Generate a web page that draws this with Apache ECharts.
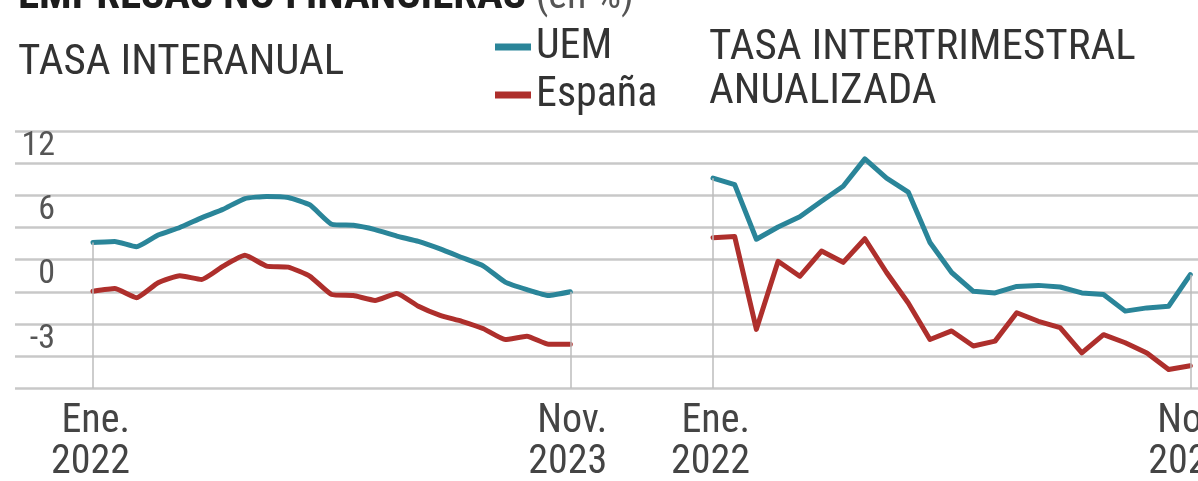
<!DOCTYPE html>
<html>
<head>
<meta charset="utf-8">
<script src="https://cdn.jsdelivr.net/npm/echarts@6/dist/echarts.min.js"></script>
<style>
html,body{margin:0;padding:0;background:#fff;}
#c{width:1198px;height:481px;}
</style>
</head>
<body>
<div id="c"></div>
<script>
// ---- data ----
const categories = ['Ene. 2022','Feb. 2022','Mar. 2022','Abr. 2022','May. 2022','Jun. 2022','Jul. 2022','Ago. 2022','Sep. 2022','Oct. 2022','Nov. 2022','Dic. 2022',
  'Ene. 2023','Feb. 2023','Mar. 2023','Abr. 2023','May. 2023','Jun. 2023','Jul. 2023','Ago. 2023','Sep. 2023','Oct. 2023','Nov. 2023'];
const uemInteranual = [4.6, 4.7, 4.2, 5.3, 6.0, 6.9, 7.7, 8.7, 8.9, 8.8, 8.1, 6.3, 6.2, 5.8, 5.2, 4.7, 4.0, 3.2, 2.4, 0.9, 0.2, -0.35, 0.0];
const espInteranual = [0.05, 0.3, -0.55, 0.85, 1.5, 1.15, 2.4, 3.4, 2.4, 2.3, 1.45, -0.25, -0.35, -0.8, -0.15, -1.35, -2.2, -2.75, -3.45, -4.45, -4.15, -4.9, -4.9];
const uemTrimestral = [10.6, 10.0, 4.9, 6.05, 7.0, 8.45, 9.85, 12.4, 10.6, 9.3, 4.6, 1.8, 0.05, -0.1, 0.5, 0.6, 0.45, -0.1, -0.25, -1.8, -1.5, -1.35, 1.6];
const espTrimestral = [5.05, 5.15, -3.5, 2.85, 1.45, 3.8, 2.75, 4.95, 1.8, -1.05, -4.45, -3.65, -5.05, -4.6, -1.95, -2.75, -3.35, -5.7, -4.0, -4.75, -5.7, -7.25, -6.9];
const seriesNames = ['UEM', 'España'];
// y tick labels exactly as printed in the reference, at the gridlines where they appear
const yTickValues = [12, 6, 0, -6];
const yTickLabels = ['12', '6', '0', '-3'];
const titleMain = 'EMPRESAS NO FINANCIERAS';
const titleUnit = '(en %)';
const subLeft = 'TASA INTERANUAL';
const subRight = 'TASA INTERTRIMESTRAL\nANUALIZADA';

// ---- styling ----
const FONT = "'Liberation Sans Narrow','Roboto Condensed','Liberation Sans',sans-serif";
const TEAL = '#2a8599';
const RED = '#ae2f2c';
const Y_MIN = -9, Y_MAX = 15, Y_INT = 3;
const TOP = 131, H = 257.3;

function dropLines(a, b) {
  const last = categories.length - 1;
  return {
    silent: true, symbol: ['none', 'none'], label: {show: false}, animation: false,
    lineStyle: {color: '#bdbdbd', width: 1.5, type: 'solid'},
    data: [
      [{coord: [categories[0], Math.max(a[0], b[0])]}, {coord: [categories[0], Y_MIN]}],
      [{coord: [categories[last], Math.max(a[last], b[last])]}, {coord: [categories[last], Y_MIN]}]
    ]
  };
}

function xAxisFor(gi) {
  const last = categories.length - 1;
  return {
    gridIndex: gi, type: 'category', data: categories, boundaryGap: false,
    axisLine: {show: false}, axisTick: {show: false}, splitLine: {show: false},
    axisLabel: {
      interval: (i) => i === 0 || i === last,
      align: 'center', width: 74, margin: 13,
      formatter: (v) => '{a|' + v.replace(' ', '}\n{a|') + '}',
      rich: {a: {align: 'right', fontFamily: FONT, fontSize: 40, lineHeight: 41, color: '#444'}}
    }
  };
}
function hiddenY(gi) {
  return {gridIndex: gi, type: 'value', min: Y_MIN, max: Y_MAX, interval: Y_INT, show: false};
}
function lineSeries(name, data, color, gi, extra) {
  return Object.assign({
    name: name, type: 'line', xAxisIndex: gi, yAxisIndex: gi, data: data,
    symbol: 'none', smooth: 0.15, color: color,
    lineStyle: {width: 5, color: color, join: 'round', cap: 'round'},
    z: 3
  }, extra || {});
}

const chart = echarts.init(document.getElementById('c'), null, {renderer: 'canvas'});
chart.setOption({
  animation: false,
  backgroundColor: '#ffffff',
  title: [
    {text: titleMain + ' {u|' + titleUnit + '}', left: 18, top: -24, padding: 0,
      textStyle: {fontFamily: FONT, fontSize: 43, fontWeight: 'bold', color: '#1c1c1c', lineHeight: 43,
        rich: {u: {fontFamily: FONT, fontSize: 40, fontWeight: 'normal', color: '#555'}}}},
    {text: subLeft, left: 18, top: 42, padding: 0,
      textStyle: {fontFamily: FONT, fontSize: 43, fontWeight: 'normal', color: '#333', lineHeight: 43}},
    {text: subRight, left: 709, top: 26, padding: 0,
      textStyle: {fontFamily: FONT, fontSize: 43, fontWeight: 'normal', color: '#333', lineHeight: 44}}
  ],
  legend: {
    data: seriesNames, orient: 'vertical', left: 495, top: 26, padding: 0,
    itemGap: 6, itemWidth: 36, itemHeight: 7, icon: 'rect',
    textStyle: {fontFamily: FONT, fontSize: 42, color: '#333', lineHeight: 42}
  },
  grid: [
    {left: 93, width: 477.3, top: TOP, height: H, outerBoundsMode: 'none', containLabel: false},
    {left: 713, width: 477.3, top: TOP, height: H, outerBoundsMode: 'none', containLabel: false},
    {left: 15, right: 0, top: TOP, height: H, outerBoundsMode: 'none', containLabel: false}
  ],
  xAxis: [xAxisFor(0), xAxisFor(1), {gridIndex: 2, type: 'value', min: 0, max: 1, show: false}],
  yAxis: [hiddenY(0), hiddenY(1), {
    gridIndex: 2, type: 'value', min: Y_MIN, max: Y_MAX, interval: Y_INT,
    axisLine: {show: false}, axisTick: {show: false},
    splitLine: {show: true, lineStyle: {color: '#c8c8c8', width: 2.6}},
    axisLabel: {
      inside: true, margin: 40, align: 'right', verticalAlign: 'bottom',
      fontFamily: FONT, fontSize: 34, lineHeight: 34, color: '#555',
      formatter: (v) => { const k = yTickValues.indexOf(v); return k >= 0 ? yTickLabels[k] : ''; }
    }
  }],
  series: [
    lineSeries(seriesNames[0], uemInteranual, TEAL, 0, {markLine: dropLines(uemInteranual, espInteranual)}),
    lineSeries(seriesNames[1], espInteranual, RED, 0),
    lineSeries(seriesNames[0], uemTrimestral, TEAL, 1, {smooth: false, markLine: dropLines(uemTrimestral, espTrimestral)}),
    lineSeries(seriesNames[1], espTrimestral, RED, 1, {smooth: false})
  ]
});
</script>
</body>
</html>
